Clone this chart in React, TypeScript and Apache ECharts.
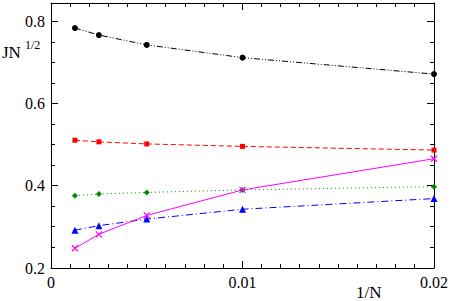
import React, { useEffect, useRef } from "react";
import * as echarts from "echarts";

const invN = [0.00125, 0.0025, 0.005, 0.01, 0.02];
const blackVals = [0.784, 0.767, 0.743, 0.712, 0.672];
const redVals = [0.511, 0.507, 0.502, 0.496, 0.487];
const greenVals = [0.376, 0.380, 0.384, 0.390, 0.398];
const blueVals = [0.292, 0.303, 0.319, 0.343, 0.369];
const magentaVals = [0.248, 0.282, 0.328, 0.390, 0.466];

const xTicks = [0, 0.01, 0.02];
const yTicks = [0.2, 0.4, 0.6, 0.8];
const xMinorStep = 0.001;
const yMinorStep = 0.05;
const yTop = 0.845;

const FONT = "Liberation Serif";

function pairs(vals: number[]) {
  return invN.map((x, i) => [x, vals[i]]);
}

export default function App() {
  const ref = useRef<HTMLDivElement>(null);
  useEffect(() => {
    if (!ref.current) return;
    const chart = echarts.init(ref.current, undefined, { renderer: "svg" });
    const fmt = (v: number) => String(+v.toFixed(3));
    const xMin = xTicks[0];
    const xMax = xTicks[xTicks.length - 1];
    const yMin = yTicks[0];
    const yMax = yTop;

    // tick marks: [value, kind (0 = x, 1 = y), length]
    const tickData: number[][] = [];
    const nx = Math.round((xMax - xMin) / xMinorStep);
    for (let i = 0; i <= nx; i++) {
      const v = +(xMin + i * xMinorStep).toFixed(6);
      const major = xTicks.some((t) => Math.abs(t - v) < 1e-9);
      tickData.push([v, 0, major ? 7 : 4]);
    }
    const ny = Math.floor((yMax - yMin) / yMinorStep + 1e-9);
    for (let i = 0; i <= ny; i++) {
      const v = +(yMin + i * yMinorStep).toFixed(6);
      const major = yTicks.some((t) => Math.abs(t - v) < 1e-9);
      tickData.push([v, 1, major ? 7 : 4]);
    }

    const mkX = (pos: string, labels: boolean) => ({
      type: "value",
      min: xMin,
      max: xMax,
      interval: 0.01,
      position: pos,
      axisLine: { show: true, onZero: false, lineStyle: { color: "#000", width: 1 } },
      splitLine: { show: false },
      axisTick: { show: false },
      axisLabel: labels
        ? { show: true, color: "#000", fontFamily: FONT, fontSize: 16, margin: 6, formatter: fmt }
        : { show: false },
    });
    const mkY = (pos: string, labels: boolean) => ({
      type: "value",
      min: yMin,
      max: yMax,
      interval: 0.2,
      position: pos,
      axisLine: { show: true, onZero: false, lineStyle: { color: "#000", width: 1 } },
      splitLine: { show: false },
      axisTick: { show: false },
      axisLabel: labels
        ? {
            show: true,
            color: "#000",
            fontFamily: FONT,
            fontSize: 16,
            margin: 6,
            showMaxLabel: false,
            formatter: fmt,
          }
        : { show: false },
    });

    const mkLine = (
      name: string,
      vals: number[],
      color: string,
      dash: any,
      symbol: string,
      size: number,
      extraItem: any = {}
    ) => ({
      name,
      type: "line",
      data: pairs(vals),
      xAxisIndex: 0,
      yAxisIndex: 0,
      symbol,
      symbolSize: size,
      showSymbol: true,
      lineStyle: { color, width: 1, type: dash },
      itemStyle: { color, ...extraItem },
      z: 3,
    });

    const crisp = (p: number) => Math.round(p - 0.5) + 0.5;

    chart.setOption({
      animation: false,
      grid: { left: 51, right: 17, top: 3, bottom: 33, containLabel: false },
      xAxis: [mkX("bottom", true), mkX("top", false)],
      yAxis: [mkY("left", true), mkY("right", false)],
      series: [
        {
          type: "custom",
          name: "ticks",
          xAxisIndex: 0,
          yAxisIndex: 0,
          clip: false,
          silent: true,
          z: 2,
          data: tickData,
          renderItem: (params: any, api: any) => {
            const v = api.value(0);
            const kind = api.value(1);
            const len = api.value(2);
            const st = { stroke: "#000", lineWidth: 1 };
            if (kind === 0) {
              const b = api.coord([v, yMin]);
              const t = api.coord([v, yMax]);
              const x = crisp(b[0]);
              return {
                type: "group",
                children: [
                  { type: "line", shape: { x1: x, y1: b[1], x2: x, y2: b[1] - len }, style: st },
                  { type: "line", shape: { x1: x, y1: t[1], x2: x, y2: t[1] + len }, style: st },
                ],
              };
            }
            const l = api.coord([xMin, v]);
            const r = api.coord([xMax, v]);
            const y = crisp(l[1]);
            return {
              type: "group",
              children: [
                { type: "line", shape: { x1: l[0], y1: y, x2: l[0] + len, y2: y }, style: st },
                { type: "line", shape: { x1: r[0], y1: y, x2: r[0] - len, y2: y }, style: st },
              ],
            };
          },
        },
        mkLine("black", blackVals, "#000000", [6, 2, 1, 2, 1, 2], "circle", 6),
        mkLine("red", redVals, "#ff0000", [5, 3], "rect", 5),
        mkLine("green", greenVals, "#008c00", [1, 3], "diamond", 6),
        mkLine("blue", blueVals, "#0000ff", [7, 3, 1, 3], "triangle", 7),
        mkLine(
          "magenta",
          magentaVals,
          "#ff00ff",
          "solid",
          "path://M0,0L10,10M10,0L0,10",
          6,
          { borderColor: "#ff00ff", borderWidth: 1.2 }
        ),
      ],
      graphic: [
        {
          type: "text",
          left: 2,
          top: 44,
          style: { text: "JN", fontFamily: FONT, fontSize: 17, fill: "#000" },
        },
        {
          type: "text",
          left: 25,
          top: 39,
          style: { text: "1/2", fontFamily: FONT, fontSize: 12, fill: "#000" },
        },
        {
          type: "text",
          left: 356,
          top: 284,
          style: { text: "1/N", fontFamily: FONT, fontSize: 17, fill: "#000" },
        },
      ],
    });
    return () => chart.dispose();
  }, []);
  return <div ref={ref} style={{ width: 451, height: 301, position: "absolute", left: 0, top: 0 }} />;
}
